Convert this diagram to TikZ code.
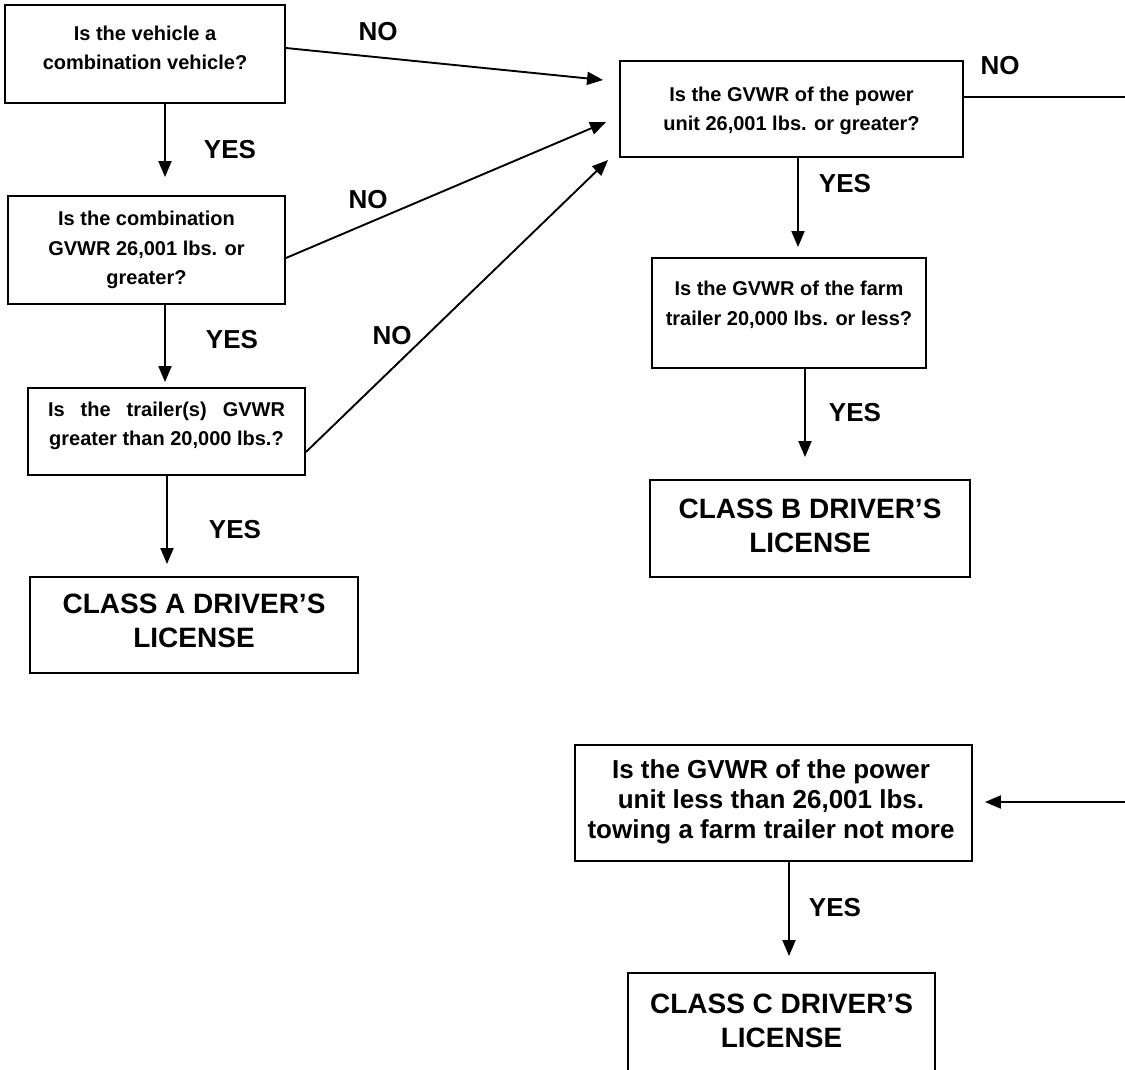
\documentclass[tikz,border=0pt]{standalone}
\usepackage{fontspec}
\setmainfont{Liberation Sans}
\usetikzlibrary{arrows.meta,calc}
\begin{document}
\begin{tikzpicture}[x=1pt,y=-1pt,
  box/.style={draw, line width=1.9pt, inner sep=0pt},
  qtext/.style={font=\fontsize{20}{29.5}\selectfont\bfseries, align=center, inner sep=0pt},
  qbig/.style={font=\fontsize{26}{30}\selectfont\bfseries, align=center, inner sep=0pt},
  ctext/.style={font=\fontsize{28}{34}\selectfont\bfseries, align=center, inner sep=0pt},
  lab/.style={font=\fontsize{26}{30}\selectfont\bfseries, inner sep=0pt},
  conn/.style={line width=1.9pt, -{Triangle[length=16pt,width=13pt]}},
  plain/.style={line width=1.9pt}]
\useasboundingbox (0,0) rectangle (1125,1069);
\clip (0,0) rectangle (1125,1069);
% boxes
\node[box, minimum width=280pt, minimum height=98pt] (b1) at (145,54) {};
\node[box, minimum width=277pt, minimum height=108pt] (b2) at (146.5,250) {};
\node[box, minimum width=277pt, minimum height=87pt] (b3) at (166.5,431.5) {};
\node[box, minimum width=328pt, minimum height=96pt] (bA) at (194,625) {};
\node[box, minimum width=343pt, minimum height=96pt] (bTR) at (791.5,109) {};
\node[box, minimum width=274pt, minimum height=110pt] (bF) at (789,313) {};
\node[box, minimum width=320pt, minimum height=97pt] (bB) at (810,528.5) {};
\node[box, minimum width=397pt, minimum height=116pt] (bQ) at (773.5,803) {};
\node[box, minimum width=307pt, minimum height=130pt] (bC) at (781.5,1038) {};
% texts
\node[qtext] (t1) at (145,48) {Is the vehicle a\\combination vehicle?};
\node[qtext] (t2) at (146.5,250) {Is the combination\\GVWR 26,001 lbs. or\\greater?};
\node[qtext] (t3) at (166.5,426) {\makebox[237pt][s]{Is the trailer(s) GVWR}\\greater than 20,000 lbs.?};
\node[ctext] (tA) at (194,621) {CLASS A DRIVER’S\\LICENSE};
\node[qtext] (tTR) at (791.5,111) {Is the GVWR of the power\\unit 26,001 lbs. or greater?};
\node[qtext] (tF) at (789,305) {Is the GVWR of the farm\\trailer 20,000 lbs. or less?};
\node[ctext] (tB) at (810,526) {CLASS B DRIVER’S\\LICENSE};
\node[qbig] (tQ) at (771,802) {Is the GVWR of the power\\unit less than 26,001 lbs.\\towing a farm trailer not more};
\node[ctext] (tC) at (781.5,1021) {CLASS C DRIVER’S\\LICENSE};
% labels
\node[lab] (no1) at (378,32) {NO};
\node[lab] (no2) at (368,200) {NO};
\node[lab] (no3) at (392,336) {NO};
\node[lab] (no4) at (1000,66) {NO};
\node[lab] (y1) at (230,150) {YES};
\node[lab] (y2) at (232,340) {YES};
\node[lab] (y3) at (235,530) {YES};
\node[lab] (y4) at (845,184) {YES};
\node[lab] (y5) at (855,413) {YES};
\node[lab] (y6) at (835,908) {YES};
% arrow anchor coordinates
\coordinate (a1) at ($(b1.south)+(20,0)$);
\coordinate (a2) at ($(b2.south)+(18.5,0)$);
\coordinate (a3) at ($(b3.south)+(0.5,0)$);
\coordinate (a4) at ($(bTR.south)+(6.5,0)$);
\coordinate (a5) at ($(bF.south)+(16,0)$);
\coordinate (a6) at ($(bQ.south)+(15.5,0)$);
\coordinate (r1) at (1125,97);
\coordinate (r2) at (1125,802);
% vertical YES arrows
\draw[conn, shorten >=18pt] (a1) -- (a1 |- b2.north);
\draw[conn, shorten >=5pt] (a2) -- (a2 |- b3.north);
\draw[conn, shorten >=12pt] (a3) -- (a3 |- bA.north);
\draw[conn, shorten >=10pt] (a4) -- (a4 |- bF.north);
\draw[conn, shorten >=22pt] (a5) -- (a5 |- bB.north);
\draw[conn, shorten >=16pt] (a6) -- (a6 |- bC.north);
% NO arrows
\draw[conn] ($(b1.east)+(0,-6)$) -- ($(bTR.west)+(-16,-29)$);
\draw[conn] ($(b2.east)+(0,8)$) -- ($(bTR.west)+(-13,13)$);
\draw[conn] ($(b3.east)+(0,20.5)$) -- ($(bTR.west)+(-11,51)$);
\draw[plain] ($(bTR.east)+(0,-12)$) -- (r1);
\draw[conn] (r2) -- ($(bQ.east)+(12,-1)$);
\end{tikzpicture}
\end{document}
